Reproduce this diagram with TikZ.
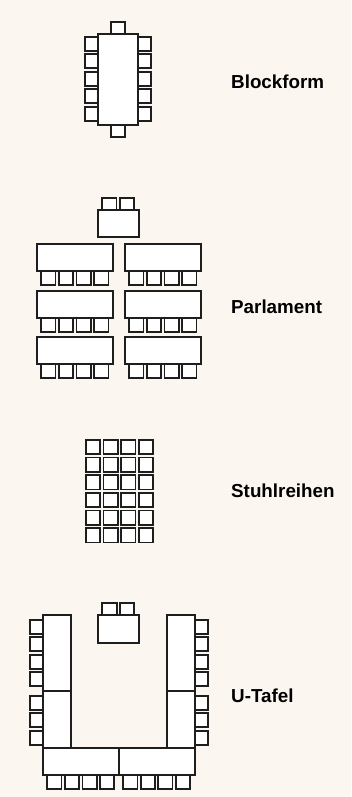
\documentclass[tikz,border=0pt]{standalone}
\usepackage{xcolor}
\usepackage{fontspec}
\setmainfont{Liberation Sans}
\definecolor{paper}{HTML}{FBF6F0}
\definecolor{ink}{HTML}{1E1E1E}
\tikzset{
  moebel/.style={draw=ink,fill=white,line width=1.65pt},
  raumlabel/.style={anchor=west,inner sep=0pt,text=black,font=\fontsize{18.8}{22}\selectfont\bfseries}
}
\begin{document}
\begin{tikzpicture}[x=1pt,y=-1pt]

\fill[paper] (0,0) rectangle (351,797);
\useasboundingbox (0,0) rectangle (351,797);

% --- Blockform ---
\draw[moebel] (111.3,21.7) rectangle (125,33.7);
\draw[moebel] (111.3,125.3) rectangle (125,137);
\foreach \y in {36.7,54.2,71.7,89.2,106.7} {
  \draw[moebel] (85,\y) rectangle (97.7,\y+14);
  \draw[moebel] (138.3,\y) rectangle (151,\y+14);
}
\draw[moebel] (97.7,33.7) rectangle (138.3,125.3);
\node[raumlabel] (blockform) at (231,82) {Blockform};

% --- Parlament ---
\draw[moebel] (102.3,197.7) rectangle (116.5,210);
\draw[moebel] (119.8,197.7) rectangle (134,210);
\draw[moebel] (97.7,210) rectangle (138.7,237.3);
\foreach \y in {243.7,290.7,336.7} {
  \foreach \x in {41.3,59,76.5,94.1,129.3,147,164.5,182.1} {
    \draw[moebel] (\x,\y+27.6) rectangle (\x+14.3,\y+41);
  }
  \draw[moebel] (37,\y) rectangle (113,\y+27.6);
  \draw[moebel] (125,\y) rectangle (201,\y+27.6);
}
\node[raumlabel] (parlament) at (231,307) {Parlament};

% --- Stuhlreihen ---
\foreach \y in {439.7,457.4,475,492.7,510.4,528} {
  \foreach \x in {85.7,103.4,121,138.7} {
    \draw[moebel] (\x,\y) rectangle (\x+14.4,\y+14.4);
  }
}
\node[raumlabel] (stuhlreihen) at (231,491) {Stuhlreihen};

% --- U-Tafel ---
\draw[moebel] (102.3,603) rectangle (116.7,615);
\draw[moebel] (120,603) rectangle (134.3,615);
\draw[moebel] (97.7,615) rectangle (139,642.7);
\foreach \y in {619.7,637.3,654.7,672.3,695.7,713.3,730.7} {
  \draw[moebel] (30,\y) rectangle (43,\y+14);
  \draw[moebel] (194.7,\y) rectangle (208,\y+14);
}
\foreach \x in {47.3,65,82.6,100,123.3,140.7,158.3,175.7} {
  \draw[moebel] (\x,775.3) rectangle (\x+14.3,789);
}
\draw[moebel] (43,615) rectangle (70.7,690.7);
\draw[moebel] (43,690.7) rectangle (70.7,748.3);
\draw[moebel] (167.3,615) rectangle (194.7,690.7);
\draw[moebel] (167.3,690.7) rectangle (194.7,748.3);
\draw[moebel] (43,748.3) rectangle (118.7,775.3);
\draw[moebel] (118.7,748.3) rectangle (194.7,775.3);
\node[raumlabel] (utafel) at (231,696) {U-Tafel};

\end{tikzpicture}
\end{document}
